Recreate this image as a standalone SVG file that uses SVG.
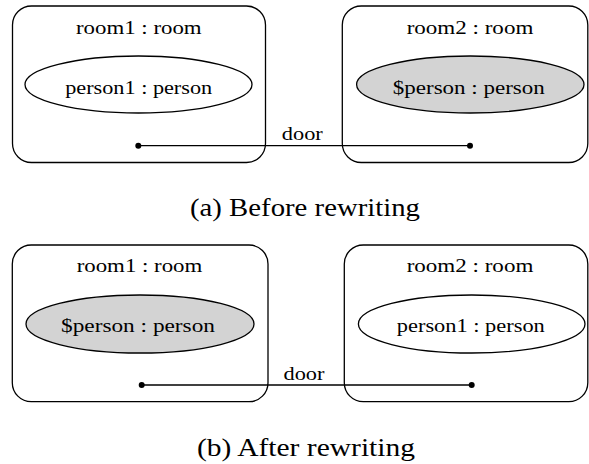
<svg xmlns="http://www.w3.org/2000/svg" width="589" height="464" viewBox="0 0 589 464">
<style>
.room{fill:none;stroke:#000;stroke-width:1.3}
.per{fill:#fff;stroke:#000;stroke-width:1.3}
.sel{fill:#d3d3d3;stroke:#000;stroke-width:1.3}
.lbl{font-family:"Liberation Serif","Times New Roman",serif;font-size:19.5px;fill:#000;text-anchor:middle}
.cap{font-family:"Liberation Serif","Times New Roman",serif;font-size:25.5px;fill:#000;text-anchor:middle}
.edge{stroke:#000;stroke-width:1.3;fill:none}
.dot{fill:#000}
</style>
<g id="room1_a">
<rect class="room" x="12.5" y="6" width="253" height="156.5" rx="19"/>
<text class="lbl" x="138.8" y="34" textLength="125.7" lengthAdjust="spacingAndGlyphs">room1 : room</text>
</g>
<g id="person1_a">
<ellipse class="per" cx="138.5" cy="84.5" rx="113.5" ry="28.5"/>
<text class="lbl" x="138.7" y="94.3" textLength="147" lengthAdjust="spacingAndGlyphs">person1 : person</text>
</g>
<g id="room2_a">
<rect class="room" x="342.3" y="6" width="245.5" height="156.5" rx="19"/>
<text class="lbl" x="470" y="34" textLength="126.7" lengthAdjust="spacingAndGlyphs">room2 : room</text>
</g>
<g id="sperson_a">
<ellipse class="sel" cx="470.3" cy="84.5" rx="113.7" ry="28.5"/>
<text class="lbl" x="468.8" y="94.3" textLength="152" lengthAdjust="spacingAndGlyphs">$person : person</text>
</g>
<g id="room1_b">
<rect class="room" x="12.3" y="245" width="255.7" height="156.7" rx="19"/>
<text class="lbl" x="139.5" y="271.7" textLength="125.7" lengthAdjust="spacingAndGlyphs">room1 : room</text>
</g>
<g id="sperson_b">
<ellipse class="sel" cx="140" cy="324" rx="114" ry="29"/>
<text class="lbl" x="138" y="331.7" textLength="154" lengthAdjust="spacingAndGlyphs">$person : person</text>
</g>
<g id="room2_b">
<rect class="room" x="344.3" y="245" width="243.5" height="156.7" rx="19"/>
<text class="lbl" x="470" y="271.7" textLength="126.7" lengthAdjust="spacingAndGlyphs">room2 : room</text>
</g>
<g id="person1_b">
<ellipse class="per" cx="471.7" cy="324" rx="113.3" ry="29"/>
<text class="lbl" x="470.8" y="331.7" textLength="148" lengthAdjust="spacingAndGlyphs">person1 : person</text>
</g>
<g id="connectors">
<line class="edge" x1="138.3" y1="145.7" x2="470" y2="145.7"/>
<circle class="dot" cx="138.3" cy="145.7" r="3"/>
<circle class="dot" cx="470" cy="145.7" r="3"/>
<text class="lbl" x="302.3" y="140" textLength="41" lengthAdjust="spacingAndGlyphs">door</text>
<line class="edge" x1="141.7" y1="385" x2="471.7" y2="385"/>
<circle class="dot" cx="141.7" cy="385" r="3"/>
<circle class="dot" cx="471.7" cy="385" r="3"/>
<text class="lbl" x="304" y="380" textLength="41" lengthAdjust="spacingAndGlyphs">door</text>
</g>
<text class="cap" x="305" y="215.7" textLength="230" lengthAdjust="spacingAndGlyphs">(a) Before rewriting</text>
<text class="cap" x="306" y="455.5" textLength="218" lengthAdjust="spacingAndGlyphs">(b) After rewriting</text>
</svg>
